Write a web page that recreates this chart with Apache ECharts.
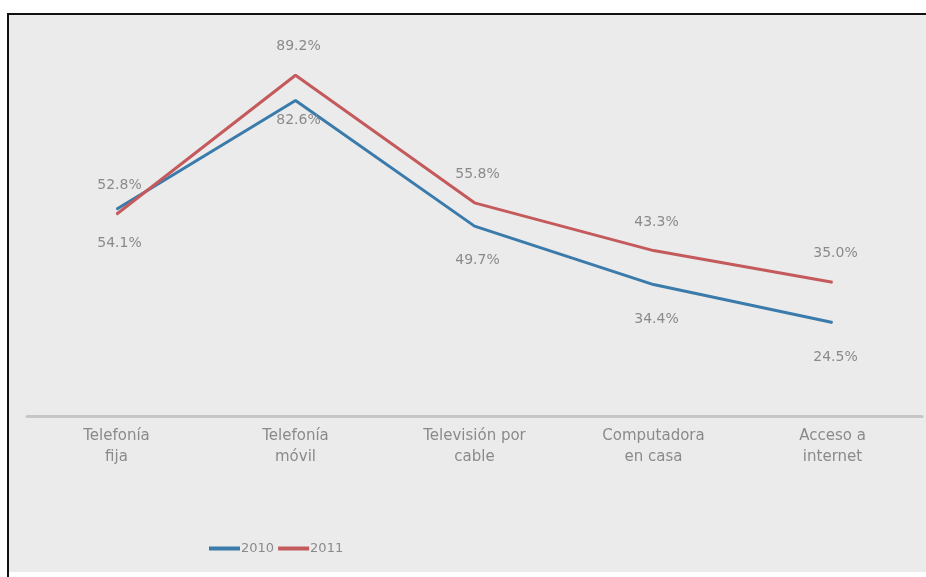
<!DOCTYPE html>
<html>
<head>
<meta charset="utf-8">
<script src="https://cdn.jsdelivr.net/npm/echarts@6/dist/echarts.min.js"></script>
<style>
  body { margin: 0; background: #fff; }
  #frame { position: absolute; left: 7px; top: 13px; width: 919px; height: 557px;
           background: #ebebeb; border-left: 2px solid #111; border-top: 2px solid #111; }
  #edge { position: absolute; left: 7px; top: 13px; width: 2px; height: 564px; background: #111; }
  #chart { position: absolute; left: 0; top: 0; width: 926px; height: 577px; }
</style>
</head>
<body>
<div id="frame"></div>
<div id="edge"></div>
<div id="chart"></div>
<script>
  // categorias y valores (%)
  var categorias = ['Telefonía\nfija', 'Telefonía\nmóvil', 'Televisión por\ncable', 'Computadora\nen casa', 'Acceso a\ninternet']
  var valores2010 = [54.1, 82.6, 49.7, 34.4, 24.5]
  var valores2011 = [52.8, 89.2, 55.8, 43.3, 35.0]
  var anios = ['2010', '2011']

  var fuente = 'DejaVu Sans'
  var gris = '#8a8a8a'

  var myChart = echarts.init(document.getElementById('chart'))
  myChart.setOption({
    backgroundColor: 'transparent',
    animation: false,
    grid: { left: 27, right: 4, top: 34, bottom: 161 },
    legend: {
      data: anios,
      left: 204,
      top: 537,
      itemWidth: 31,
      itemHeight: 4,
      itemGap: 4,
      icon: 'rect',
      textStyle: { color: gris, fontSize: 13, fontFamily: fuente, padding: [0, 0, 0, -4] }
    },
    xAxis: {
      type: 'category',
      data: categorias,
      boundaryGap: true,
      axisLine: { lineStyle: { color: '#c6c6c6', width: 3 } },
      axisTick: { show: false },
      axisLabel: { color: gris, fontSize: 15, fontFamily: fuente, lineHeight: 21, margin: 10, interval: 0 }
    },
    yAxis: {
      type: 'value',
      min: 0,
      max: 100,
      show: false,
      splitLine: { show: false }
    },
    series: [
      {
        name: '2010',
        type: 'line',
        data: valores2010.map(function (v, i) {
          return i === 1 ? { value: v, label: { distance: 12 } } : v
        }),
        symbol: 'circle',
        symbolSize: 1,
        color: '#3b7bab',
        lineStyle: { width: 3, color: '#3b7bab' },
        label: {
          show: true, position: 'bottom', distance: 27, offset: [3, 0],
          color: gris, fontSize: 14, fontFamily: fuente,
          formatter: function (p) { return p.value.toFixed(1) + '%' }
        }
      },
      {
        name: '2011',
        type: 'line',
        data: valores2011,
        symbol: 'circle',
        symbolSize: 1,
        color: '#c45a5c',
        lineStyle: { width: 3, color: '#c45a5c' },
        label: {
          show: true, position: 'top', distance: 21, offset: [3, 0],
          color: gris, fontSize: 14, fontFamily: fuente,
          formatter: function (p) { return p.value.toFixed(1) + '%' }
        }
      }
    ]
  }, true)
</script>
</body>
</html>
